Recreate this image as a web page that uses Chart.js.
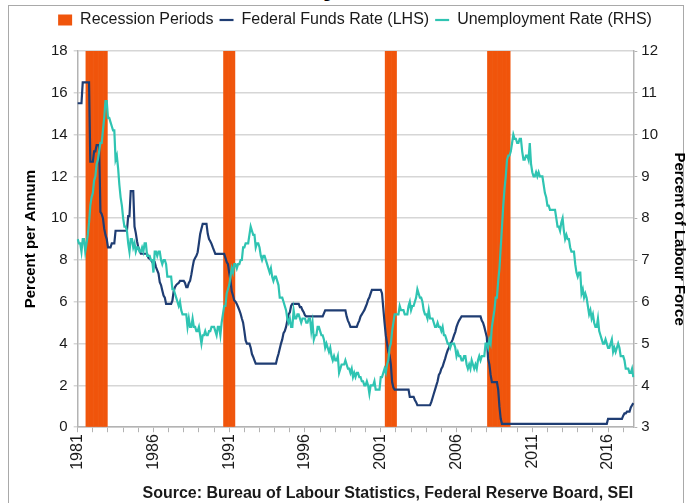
<!DOCTYPE html>
<html>
<head>
<meta charset="utf-8">
<script src="https://cdn.jsdelivr.net/npm/chart.js@4/dist/chart.umd.min.js"></script>
<style>
body { margin: 0; background: #fff; }
#wrap { position: relative; width: 688px; height: 503px; overflow: hidden; }
#frame { position: absolute; left: 8px; top: 5px; width: 674px; height: 520px; border: 1px solid #a9a9a9; }
#head { position: absolute; left: 214px; top: -30px; line-height: 32px; font: bold 28px "Liberation Sans", Arial, sans-serif; color: #000; }
#box { position: absolute; left: 0; top: 0; width: 688px; height: 503px; }
</style>
</head>
<body>
<div id="wrap">
  <div id="frame"></div>
  <div id="head">Monetary</div>
  <div id="box"><canvas id="fed-chart"></canvas></div>
</div>
<script>
var startYear = 1981;
var monthCount = 441; // Jan 1981 - Sep 2017

// Federal funds rate, % (one row per year)
var fedFunds = [
  15.5,15.5,15.5,15.5,16.5,16.5,16.5,16.5,16.5,16.5,12.7,12.7,
  12.7,13.2,13.2,13.5,13.5,13.5,10.3,10.2,10.0,9.5,9.2,9.0,
  8.6,8.6,8.6,8.8,8.8,8.8,9.4,9.4,9.4,9.4,9.4,9.4,
  9.4,9.4,9.4,9.4,10.1,10.1,11.3,11.3,11.3,9.6,9.3,8.9,
  8.6,8.45,8.3,8.3,8.3,8.3,8.3,8.3,8.1,8.06,8.0,7.9,
  7.9,7.9,7.66,7.5,7.35,6.94,6.8,6.54,6.3,6.2,5.9,5.9,
  5.9,5.9,5.9,6.05,6.5,6.7,6.8,6.86,6.9,7.0,7.0,7.0,
  7.0,6.9,6.7,6.7,6.9,7.0,7.3,7.66,7.97,8.1,8.2,8.37,
  8.8,9.25,9.5,9.73,9.73,9.73,9.73,9.25,9.0,8.9,8.77,8.6,
  8.45,8.29,8.29,8.29,8.29,8.29,8.29,8.29,8.29,8.1,7.9,7.8,
  7.4,7.02,6.5,6.3,6.06,6.0,5.9,5.75,5.6,5.43,5.2,5.0,
  4.6,4.15,4.0,4.0,4.0,3.8,3.5,3.36,3.2,3.04,3.04,3.04,
  3.04,3.04,3.04,3.04,3.04,3.04,3.04,3.04,3.04,3.04,3.04,3.04,
  3.04,3.04,3.3,3.5,3.75,4.0,4.2,4.5,4.6,4.8,5.1,5.4,
  5.5,5.8,5.9,5.9,5.9,5.9,5.9,5.9,5.75,5.75,5.6,5.5,
  5.35,5.3,5.3,5.3,5.3,5.3,5.3,5.3,5.3,5.3,5.3,5.3,
  5.3,5.3,5.3,5.45,5.59,5.59,5.59,5.59,5.59,5.59,5.59,5.59,
  5.59,5.59,5.59,5.59,5.59,5.59,5.59,5.59,5.59,5.3,5.1,4.97,
  4.8,4.8,4.8,4.8,4.8,4.8,4.97,5.1,5.3,5.4,5.5,5.6,
  5.75,5.9,6.1,6.22,6.4,6.57,6.57,6.57,6.57,6.57,6.57,6.57,
  6.57,6.4,5.7,5.0,4.39,4.0,3.6,3.44,3.0,2.16,1.9,1.8,
  1.8,1.8,1.8,1.8,1.8,1.8,1.8,1.8,1.8,1.8,1.8,1.45,
  1.45,1.45,1.45,1.3,1.2,1.05,1.05,1.05,1.05,1.05,1.05,1.05,
  1.05,1.05,1.05,1.05,1.2,1.4,1.6,1.8,2.0,2.2,2.5,2.6,
  2.8,2.9,3.1,3.28,3.5,3.68,3.8,4.0,4.07,4.2,4.39,4.55,
  4.8,4.97,5.1,5.2,5.3,5.3,5.3,5.3,5.3,5.3,5.3,5.3,
  5.3,5.3,5.3,5.3,5.3,5.3,5.3,5.3,5.1,5.0,4.8,4.55,
  4.3,3.28,3.0,2.5,2.16,2.16,2.16,2.16,2.16,1.8,0.97,0.4,
  0.16,0.16,0.16,0.16,0.16,0.16,0.16,0.16,0.16,0.16,0.16,0.16,
  0.16,0.16,0.16,0.16,0.16,0.16,0.16,0.16,0.16,0.16,0.16,0.16,
  0.16,0.16,0.16,0.16,0.16,0.16,0.16,0.16,0.16,0.16,0.16,0.16,
  0.16,0.16,0.16,0.16,0.16,0.16,0.16,0.16,0.16,0.16,0.16,0.16,
  0.16,0.16,0.16,0.16,0.16,0.16,0.16,0.16,0.16,0.16,0.16,0.16,
  0.16,0.16,0.16,0.16,0.16,0.16,0.16,0.16,0.16,0.16,0.16,0.16,
  0.16,0.16,0.16,0.16,0.16,0.16,0.16,0.16,0.16,0.16,0.16,0.16,
  0.4,0.4,0.4,0.4,0.4,0.4,0.4,0.4,0.4,0.4,0.4,0.4,
  0.55,0.66,0.66,0.75,0.75,0.75,0.95,1.05,1.15
];

// Unemployment rate, % of labour force (one row per year)
var unemployment = [
  7.5,7.4,7.4,7.2,7.5,7.5,7.2,7.4,7.6,7.9,8.3,8.5,
  8.6,8.9,9.0,9.3,9.4,9.6,9.8,9.8,10.1,10.4,10.8,10.8,
  10.4,10.4,10.3,10.2,10.1,10.1,9.4,9.5,9.2,8.8,8.5,8.3,
  8.0,7.8,7.8,7.7,7.4,7.2,7.5,7.5,7.3,7.4,7.2,7.3,
  7.3,7.2,7.2,7.3,7.2,7.4,7.4,7.1,7.1,7.1,7.0,7.0,
  6.7,7.2,7.2,7.1,7.2,7.2,7.0,6.9,7.0,7.0,6.9,6.6,
  6.6,6.6,6.6,6.3,6.3,6.2,6.1,6.0,5.9,6.0,5.8,5.7,
  5.7,5.7,5.7,5.4,5.6,5.4,5.4,5.6,5.4,5.4,5.3,5.3,
  5.4,5.2,5.0,5.2,5.2,5.3,5.2,5.2,5.3,5.3,5.4,5.4,
  5.4,5.3,5.2,5.4,5.4,5.2,5.5,5.7,5.9,5.9,6.2,6.3,
  6.4,6.6,6.8,6.7,6.9,6.9,6.8,6.9,6.9,7.0,7.0,7.3,
  7.3,7.4,7.4,7.4,7.6,7.8,7.7,7.6,7.6,7.3,7.4,7.4,
  7.3,7.1,7.0,7.1,7.1,7.0,6.9,6.8,6.7,6.8,6.6,6.5,
  6.6,6.6,6.5,6.4,6.1,6.1,6.1,6.0,5.9,5.8,5.6,5.5,
  5.6,5.4,5.4,5.8,5.6,5.6,5.7,5.7,5.6,5.5,5.6,5.6,
  5.6,5.5,5.5,5.6,5.6,5.3,5.5,5.1,5.2,5.2,5.4,5.4,
  5.3,5.2,5.2,5.1,4.9,5.0,4.9,4.8,4.9,4.7,4.6,4.7,
  4.6,4.6,4.7,4.3,4.4,4.5,4.5,4.5,4.6,4.5,4.4,4.4,
  4.3,4.4,4.2,4.3,4.2,4.3,4.3,4.2,4.2,4.1,4.1,4.0,
  4.0,4.1,4.0,3.8,4.0,4.0,4.0,4.1,3.9,3.9,3.9,3.9,
  4.2,4.2,4.3,4.4,4.3,4.5,4.6,4.9,5.0,5.3,5.5,5.7,
  5.7,5.7,5.7,5.9,5.8,5.8,5.8,5.7,5.7,5.7,5.9,6.0,
  5.8,5.9,5.9,6.0,6.1,6.3,6.2,6.1,6.1,6.0,5.8,5.7,
  5.7,5.6,5.8,5.6,5.6,5.6,5.5,5.4,5.4,5.5,5.4,5.4,
  5.3,5.4,5.2,5.2,5.1,5.0,5.0,4.9,5.0,5.0,5.0,4.9,
  4.7,4.8,4.7,4.7,4.6,4.6,4.7,4.7,4.5,4.4,4.5,4.4,
  4.6,4.5,4.4,4.5,4.4,4.6,4.7,4.6,4.7,4.7,4.7,5.0,
  5.0,4.9,5.1,5.0,5.4,5.6,5.8,6.1,6.1,6.5,6.8,7.3,
  7.8,8.3,8.7,9.0,9.4,9.5,9.5,9.6,9.8,10.0,9.9,9.9,
  9.8,9.8,9.9,9.9,9.6,9.4,9.4,9.5,9.5,9.4,9.8,9.3,
  9.1,9.0,9.0,9.1,9.0,9.1,9.0,9.0,9.0,8.8,8.6,8.5,
  8.3,8.3,8.2,8.2,8.2,8.2,8.2,8.0,7.8,7.8,7.7,7.9,
  8.0,7.7,7.5,7.6,7.5,7.5,7.3,7.2,7.2,7.2,6.9,6.7,
  6.6,6.7,6.7,6.2,6.3,6.1,6.2,6.1,5.9,5.7,5.8,5.6,
  5.7,5.5,5.4,5.4,5.6,5.3,5.2,5.1,5.0,5.0,5.1,5.0,
  4.9,4.9,5.0,5.1,4.8,4.9,4.8,4.9,5.0,4.9,4.7,4.7,
  4.7,4.6,4.4,4.4,4.4,4.3,4.3,4.4,4.2
];

// recession periods as shaded in the chart [first month, last month]
var recessions = [
  ['1981-08', '1982-12'],
  ['1990-09', '1991-05'],
  ['2001-05', '2002-01'],
  ['2008-02', '2009-07']
];

var tickYears = [1981, 1986, 1991, 1996, 2001, 2006, 2011, 2016];

var months = [];
for (var i = 0; i < monthCount; i++) {
  var y = startYear + Math.floor(i / 12);
  var m = (i % 12) + 1;
  months.push(y + '-' + (m < 10 ? '0' + m : m));
}

var recessionBars = months.map(function(lbl) {
  var inside = recessions.some(function(r) { return lbl >= r[0] && lbl <= r[1]; });
  return inside ? 18 : null;
});

var font = '"Liberation Sans", Arial, sans-serif';
var textColor = '#1a1a1a';
var gridColor = '#d6d6d6';
var axisColor = '#b3b3b3';

// a bit more room under the legend
var legendGap = {
  id: 'legendGap',
  beforeInit: function(chart) {
    var fit = chart.legend.fit;
    chart.legend.fit = function() {
      fit.bind(chart.legend)();
      this.height += 13;
    };
  }
};

function createChart() {
  new Chart(document.getElementById('fed-chart'), {
    type: 'bar',
    data: {
      labels: months,
      datasets: [{
        label: 'Recession Periods',
        type: 'bar',
        data: recessionBars,
        backgroundColor: '#f0550c',
        borderWidth: 0,
        barPercentage: 1,
        categoryPercentage: 1,
        pointStyle: 'rect',
        yAxisID: 'y',
        order: 3
      }, {
        label: 'Federal Funds Rate (LHS)',
        type: 'line',
        data: fedFunds,
        borderColor: '#1f3d73',
        backgroundColor: '#1f3d73',
        borderWidth: 2.2,
        pointRadius: 0,
        pointStyle: 'line',
        tension: 0,
        yAxisID: 'y',
        order: 2
      }, {
        label: 'Unemployment Rate (RHS)',
        type: 'line',
        data: unemployment,
        borderColor: '#2fc4b2',
        backgroundColor: '#2fc4b2',
        borderWidth: 2.2,
        pointRadius: 0,
        pointStyle: 'line',
        tension: 0,
        yAxisID: 'y1',
        order: 1
      }]
    },
    plugins: [legendGap],
    options: {
      responsive: true,
      maintainAspectRatio: false,
      animation: false,
      layout: { padding: { left: 22, right: 0, top: 6, bottom: 0 } },
      plugins: {
        legend: {
          position: 'top',
          labels: {
            usePointStyle: true,
            pointStyleWidth: 14,
            boxHeight: 11,
            padding: 6,
            color: textColor,
            font: { family: font, size: 16 },
            sort: function(a, b) { return a.datasetIndex - b.datasetIndex; }
          }
        },
        title: {
          display: true,
          position: 'bottom',
          align: 'end',
          fullSize: false,
          text: 'Source: Bureau of Labour Statistics, Federal Reserve Board, SEI',
          color: textColor,
          font: { family: font, size: 16, weight: 'bold' },
          padding: { top: 12, bottom: 0 }
        },
        tooltip: { enabled: false }
      },
      scales: {
        x: {
          type: 'category',
          offset: false,
          grid: { offset: false, drawOnChartArea: false, drawTicks: true, tickLength: 5, color: axisColor },
          border: { color: axisColor, width: 1.5 },
          ticks: {
            autoSkip: false,
            minRotation: 90,
            maxRotation: 90,
            padding: 2,
            color: textColor,
            font: { family: font, size: 16 },
            callback: function(value, index) {
              var lbl = months[index];
              if (lbl.slice(5) !== '01') return null;
              var yr = parseInt(lbl.slice(0, 4), 10);
              return tickYears.indexOf(yr) >= 0 ? String(yr) : '';
            }
          }
        },
        y: {
          position: 'left',
          min: 0,
          max: 18,
          ticks: { stepSize: 2, padding: 6, color: textColor, font: { family: font, size: 15 } },
          grid: { color: gridColor, lineWidth: 1.5, tickLength: 4 },
          border: { color: axisColor, width: 1.5 },
          title: {
            display: true,
            text: 'Percent per Annum',
            color: '#000',
            font: { family: font, size: 15, weight: 'bold' },
            padding: { top: 0, bottom: 5 }
          }
        },
        y1: {
          position: 'right',
          min: 3,
          max: 12,
          ticks: { stepSize: 1, padding: 4, color: textColor, font: { family: font, size: 15 } },
          grid: { drawOnChartArea: false, color: axisColor, tickLength: 4 },
          border: { color: axisColor, width: 1.5 },
          title: {
            display: true,
            text: 'Percent of Labour Force',
            color: '#000',
            font: { family: font, size: 15, weight: 'bold' },
            padding: { top: 0, bottom: 8 }
          }
        }
      }
    }
  });
}

createChart();
</script>
</body>
</html>
